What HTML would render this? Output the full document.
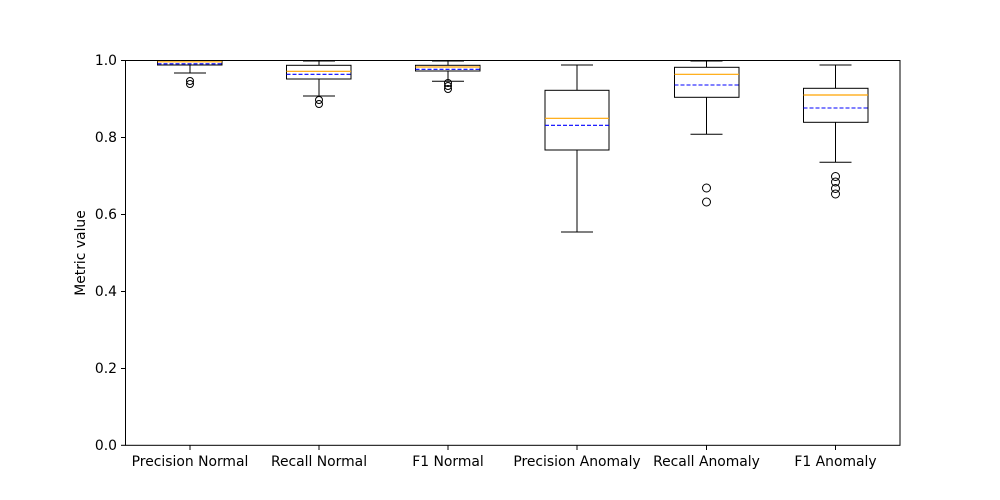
<!DOCTYPE html>
<html><head><style>body{margin:0;background:#fff}svg{display:block}</style></head><body>
<svg width="1000" height="500" xmlns="http://www.w3.org/2000/svg" font-family="DejaVu Sans, Liberation Sans, sans-serif" font-size="13.9">
<rect width="1000" height="500" fill="#fff"/>
<g stroke="#000" stroke-width="1" fill="none">
<line x1="190" y1="65" x2="190" y2="73"/><line x1="174" y1="73" x2="206" y2="73"/>
<rect x="157.5" y="60.5" width="64.5" height="4.5"/>
<circle cx="190" cy="81" r="3.5"/><circle cx="190" cy="84" r="3.5"/>
<line x1="319" y1="61" x2="319" y2="65.3"/><line x1="303" y1="61" x2="335" y2="61"/>
<rect x="286.5" y="65.3" width="64.5" height="13.7"/>
<line x1="319" y1="79" x2="319" y2="96"/><line x1="303" y1="96" x2="335" y2="96"/>
<circle cx="319" cy="100" r="3.5"/><circle cx="319" cy="104" r="3.5"/>
<line x1="448" y1="61" x2="448" y2="65.3"/><line x1="432" y1="61" x2="464" y2="61"/>
<rect x="415.5" y="65.3" width="64.5" height="5.7"/>
<line x1="448" y1="71" x2="448" y2="81.3"/><line x1="432" y1="81.3" x2="464" y2="81.3"/>
<circle cx="448" cy="83" r="3.5"/><circle cx="448" cy="86" r="3.5"/><circle cx="448" cy="89" r="3.5"/>
<line x1="577" y1="65" x2="577" y2="90.3"/><line x1="561" y1="65" x2="593" y2="65"/>
<rect x="545" y="90.3" width="64" height="59.7"/>
<line x1="577" y1="150" x2="577" y2="232"/><line x1="561" y1="232" x2="593" y2="232"/>
<line x1="706.5" y1="61" x2="706.5" y2="67.3"/><line x1="690.5" y1="61" x2="722.5" y2="61"/>
<rect x="674.5" y="67.3" width="64.5" height="30"/>
<line x1="706.5" y1="97.3" x2="706.5" y2="134.3"/><line x1="690.5" y1="134.3" x2="722.5" y2="134.3"/>
<circle cx="706.5" cy="188" r="4"/><circle cx="706.5" cy="202" r="4"/>
<line x1="835.5" y1="65" x2="835.5" y2="88.3"/><line x1="819.5" y1="65" x2="851.5" y2="65"/>
<rect x="803.5" y="88.3" width="64.5" height="34"/>
<line x1="835.5" y1="122.3" x2="835.5" y2="162.3"/><line x1="819.5" y1="162.3" x2="851.5" y2="162.3"/>
<circle cx="835.5" cy="176.5" r="4"/><circle cx="835.5" cy="182" r="4"/><circle cx="835.5" cy="188.5" r="4"/><circle cx="835.5" cy="194" r="4"/>
</g>
<g stroke="orange" stroke-width="1.2">
<line x1="157.5" y1="61.8" x2="222" y2="61.8"/>
<line x1="286.5" y1="71.3" x2="351" y2="71.3"/>
<line x1="415.5" y1="67" x2="480" y2="67"/>
<line x1="545" y1="118.3" x2="609" y2="118.3"/>
<line x1="674.5" y1="74.3" x2="739" y2="74.3"/>
<line x1="803.5" y1="95" x2="868" y2="95"/>
</g>
<g stroke="blue" stroke-width="1.1" stroke-dasharray="4,2">
<line x1="157.5" y1="63.8" x2="222" y2="63.8"/>
<line x1="286.5" y1="74.3" x2="351" y2="74.3"/>
<line x1="415.5" y1="69.3" x2="480" y2="69.3"/>
<line x1="545" y1="125.3" x2="609" y2="125.3"/>
<line x1="674.5" y1="85" x2="739" y2="85"/>
<line x1="803.5" y1="108" x2="868" y2="108"/>
</g>
<rect x="125.5" y="60.5" width="774.5" height="384.8" fill="none" stroke="#000" stroke-width="1"/>
<g stroke="#000" stroke-width="1">
<line x1="121" y1="60.5" x2="125.5" y2="60.5"/><line x1="121" y1="137.5" x2="125.5" y2="137.5"/>
<line x1="121" y1="214.5" x2="125.5" y2="214.5"/><line x1="121" y1="291.5" x2="125.5" y2="291.5"/>
<line x1="121" y1="368.5" x2="125.5" y2="368.5"/><line x1="121" y1="445.3" x2="125.5" y2="445.3"/>
<line x1="190" y1="445.3" x2="190" y2="450"/><line x1="319" y1="445.3" x2="319" y2="450"/>
<line x1="448" y1="445.3" x2="448" y2="450"/><line x1="577" y1="445.3" x2="577" y2="450"/>
<line x1="706.5" y1="445.3" x2="706.5" y2="450"/><line x1="835.5" y1="445.3" x2="835.5" y2="450"/>
</g>
<g text-anchor="end" fill="#000">
<text x="117" y="65">1.0</text><text x="117" y="142">0.8</text><text x="117" y="219">0.6</text>
<text x="117" y="296">0.4</text><text x="117" y="373">0.2</text><text x="117" y="450">0.0</text>
</g>
<g text-anchor="middle" fill="#000">
<text x="190" y="466">Precision Normal</text><text x="319" y="466">Recall Normal</text>
<text x="448" y="466">F1 Normal</text><text x="577" y="466">Precision Anomaly</text>
<text x="706.5" y="466">Recall Anomaly</text><text x="835.5" y="466">F1 Anomaly</text>
<text transform="translate(85,253) rotate(-90)">Metric value</text>
</g>
</svg>
</body></html>
